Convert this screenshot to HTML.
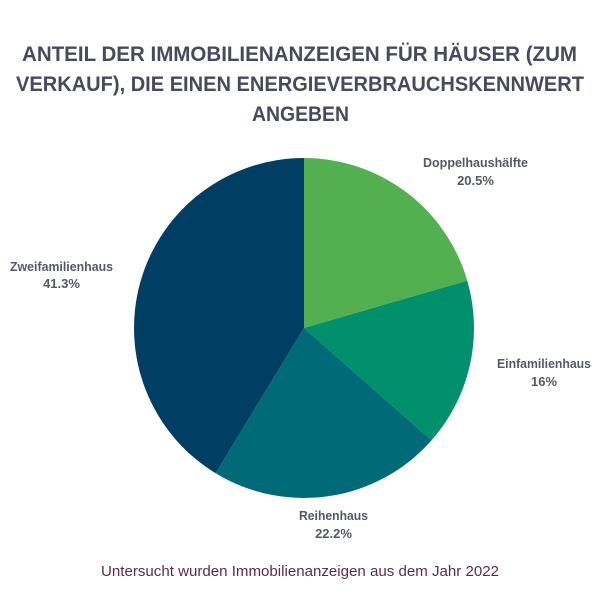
<!DOCTYPE html>
<html>
<head>
<meta charset="utf-8">
<style>
html,body{margin:0;padding:0;background:#fff;}
svg{display:block;}
.t{font-family:"Liberation Sans",sans-serif;font-weight:bold;font-size:21px;fill:#474a5e;}
.l{font-family:"Liberation Sans",sans-serif;font-weight:bold;font-size:13px;fill:#55586a;}
.f{font-family:"Liberation Sans",sans-serif;font-size:15px;fill:#5e2a4c;}
</style>
</head>
<body>
<svg width="600" height="600" viewBox="0 0 600 600" xmlns="http://www.w3.org/2000/svg">
<rect width="600" height="600" fill="#ffffff"/>
<text class="t" x="22" y="61" textLength="555" lengthAdjust="spacingAndGlyphs">ANTEIL DER IMMOBILIENANZEIGEN FÜR HÄUSER (ZUM</text>
<text class="t" x="16" y="91" textLength="568" lengthAdjust="spacingAndGlyphs">VERKAUF), DIE EINEN ENERGIEVERBRAUCHSKENNWERT</text>
<text class="t" x="252" y="121" textLength="97" lengthAdjust="spacingAndGlyphs">ANGEBEN</text>

<path d="M304,328 L304,158 A170,170 0 0,1 467.25,280.57 Z" fill="#53b04f"/>
<path d="M304,328 L467.25,280.57 A170,170 0 0,1 431.5,440.4 Z" fill="#00906b"/>
<path d="M304,328 L431.5,440.4 A170,170 0 0,1 215.6,473.2 Z" fill="#006a78"/>
<path d="M304,328 L215.6,473.2 A170,170 0 0,1 304,158 Z" fill="#003f63"/>

<text class="l" x="423" y="167" textLength="105" lengthAdjust="spacingAndGlyphs">Doppelhaushälfte</text>
<text class="l" x="475.5" y="185" text-anchor="middle">20.5%</text>

<text class="l" x="497" y="368" textLength="94" lengthAdjust="spacingAndGlyphs">Einfamilienhaus</text>
<text class="l" x="544" y="386" text-anchor="middle">16%</text>

<text class="l" x="10" y="271" textLength="103" lengthAdjust="spacingAndGlyphs">Zweifamilienhaus</text>
<text class="l" x="61.5" y="288" text-anchor="middle">41.3%</text>

<text class="l" x="299" y="520" textLength="69" lengthAdjust="spacingAndGlyphs">Reihenhaus</text>
<text class="l" x="333.5" y="538" text-anchor="middle">22.2%</text>

<text class="f" x="101" y="576" textLength="398" lengthAdjust="spacingAndGlyphs">Untersucht wurden Immobilienanzeigen aus dem Jahr 2022</text>
</svg>
</body>
</html>
